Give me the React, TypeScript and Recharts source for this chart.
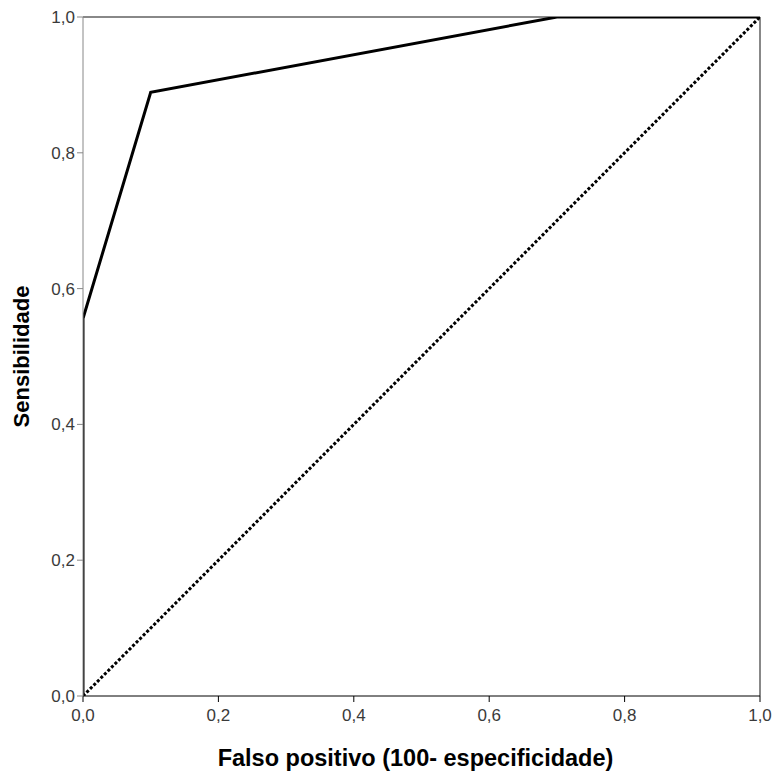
import {
  LineChart,
  Line,
  XAxis,
  YAxis,
  ReferenceLine,
  Label,
} from "recharts";

// ROC curve points (1 - specificity, sensitivity)
const rocFpr = [0, 0, 0.1, 0.7, 1.0];
const rocTpr = [0, 0.556, 0.889, 1.0, 1.0];

// reference diagonal
const diagFpr = [0, 1];
const diagTpr = [0, 1];

const axisTicks = [0, 0.2, 0.4, 0.6, 0.8, 1.0];

const rocData = rocFpr.map((x, i) => ({ x, y: rocTpr[i] }));
const diagData = diagFpr.map((x, i) => ({ x, y: diagTpr[i] }));

const fmt = (v: number) => v.toFixed(1).replace(".", ",");

const FONT = "'Liberation Sans', Arial, sans-serif";

const tickStyle = {
  fontFamily: FONT,
  fontSize: 17,
  fill: "#3a3a3a",
};

const App = () => {
  return (
    <div style={{ position: "absolute", left: 0, top: 0 }}>
      <LineChart
        width={776}
        height={773}
        margin={{ top: 17, right: 16, bottom: 27, left: 23 }}
      >
        <XAxis
          type="number"
          dataKey="x"
          domain={[0, 1]}
          ticks={axisTicks}
          tickFormatter={fmt}
          stroke="#000"
          tickSize={6}
          tickMargin={7}
          tick={tickStyle}
          height={50}
          allowDataOverflow
        >
          <Label
            value="Falso positivo (100- especificidade)"
            position="insideBottom"
            offset={-20}
            dx={-6}
            style={{
              fontFamily: FONT,
              fontSize: 23.5,
              fontWeight: "bold",
              fill: "#000",
            }}
          />
        </XAxis>
        <YAxis
          type="number"
          dataKey="y"
          domain={[0, 1]}
          ticks={axisTicks}
          tickFormatter={fmt}
          stroke="#888"
          tickSize={6}
          tick={tickStyle}
          width={60}
          allowDataOverflow
        >
          <Label
            value="Sensibilidade"
            angle={-90}
            position="insideLeft"
            offset={-2}
            style={{
              textAnchor: "middle",
              fontFamily: FONT,
              fontSize: 22,
              fontWeight: "bold",
              fill: "#000",
            }}
          />
        </YAxis>
        <ReferenceLine y={1} stroke="#888" strokeWidth={2} />
        <ReferenceLine x={1} stroke="#888" strokeWidth={2} />
        <Line
          data={diagData}
          dataKey="y"
          type="linear"
          stroke="#000"
          strokeWidth={3}
          strokeDasharray="3 2"
          dot={false}
          isAnimationActive={false}
        />
        <Line
          data={rocData}
          dataKey="y"
          type="linear"
          stroke="#000"
          strokeWidth={3}
          dot={false}
          isAnimationActive={false}
        />
      </LineChart>
    </div>
  );
};

export default App;
